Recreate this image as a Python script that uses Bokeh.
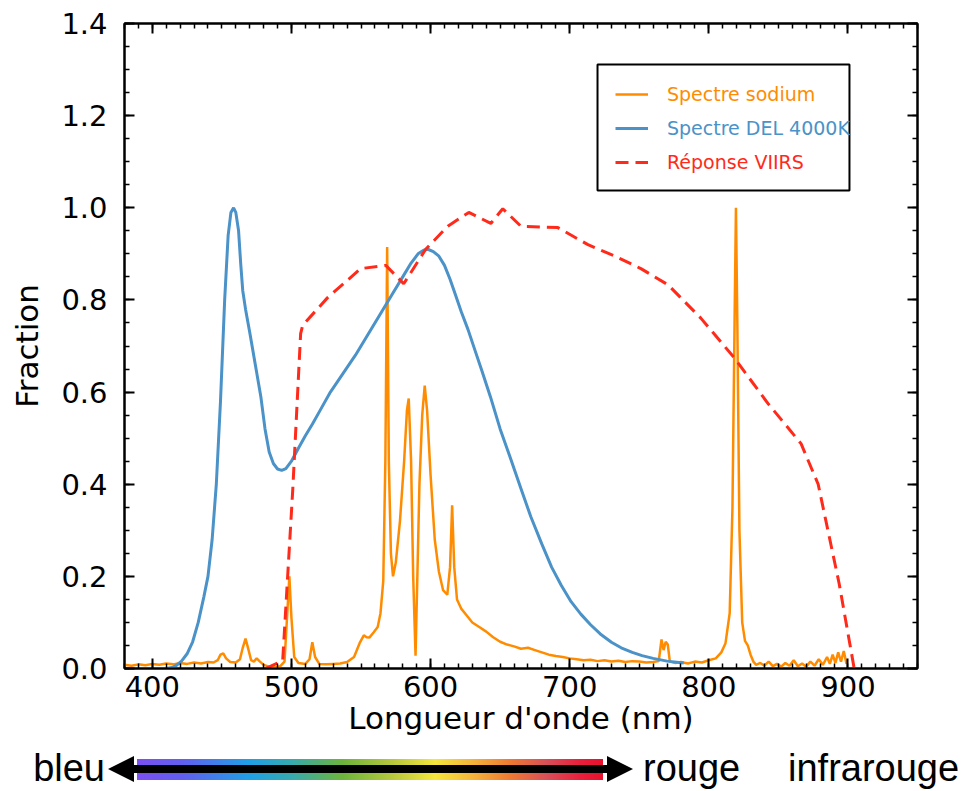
import numpy as np
from bokeh.plotting import figure
from bokeh.models import (Range1d, LinearAxis, FixedTicker, PrintfTickFormatter,
                          Legend, LegendItem, BoxAnnotation, Div)
from bokeh.layouts import column
from bokeh.embed import file_html
from bokeh.resources import INLINE

# ---------------- data ----------------
na_wl = [380, 385, 390, 395, 400, 405, 410, 415, 420, 425, 430, 435, 440, 444, 447, 449, 451, 453,
         456, 460, 463, 465, 467, 469, 471, 473, 475, 477, 480, 484, 488, 492, 495, 497, 498.5, 500,
         502, 505, 510, 513, 515, 517, 520, 525, 530, 535, 540, 545, 549, 552, 554, 556, 559, 562,
         564, 566, 567.5, 568.8, 570, 571.5, 573, 575, 578, 581, 583, 584.3, 586, 587.5, 589.2,
         590.5, 592, 594, 595.8, 597.5, 600, 603, 606, 609, 612, 614, 615.5, 617, 619, 622, 626,
         630, 635, 640, 645, 650, 655, 660, 665, 670, 675, 680, 685, 690, 695, 700, 705, 710, 715,
         720, 725, 730, 735, 740, 745, 750, 755, 760, 764, 766, 767.5, 769, 770.5, 772, 776, 780,
         785, 790, 795, 800, 805, 809, 812, 815, 817, 818.5, 819.5, 820.5, 822, 824, 826, 828, 830,
         832, 834, 837, 840, 843, 846, 849, 852, 855, 858, 861, 864, 867, 870, 873, 876, 879, 882,
         885, 887, 889, 891, 893, 895, 897, 899]
na_val = [0.008, 0.006, 0.009, 0.007, 0.010, 0.008, 0.011, 0.009, 0.012, 0.010, 0.013, 0.011, 0.014,
          0.013, 0.018, 0.030, 0.033, 0.022, 0.014, 0.013, 0.020, 0.045, 0.065, 0.042, 0.018, 0.015,
          0.022, 0.016, 0.008, 0.004, 0.003, 0.005, 0.015, 0.12, 0.20, 0.11, 0.025, 0.012, 0.010,
          0.020, 0.057, 0.025, 0.010, 0.009, 0.010, 0.011, 0.014, 0.025, 0.055, 0.072, 0.068, 0.067,
          0.078, 0.090, 0.12, 0.19, 0.45, 0.915, 0.45, 0.25, 0.20, 0.23, 0.32, 0.45, 0.56, 0.586,
          0.45, 0.20, 0.028, 0.20, 0.40, 0.55, 0.614, 0.56, 0.42, 0.28, 0.21, 0.17, 0.16, 0.22,
          0.354, 0.22, 0.15, 0.13, 0.115, 0.10, 0.09, 0.08, 0.068, 0.058, 0.052, 0.048, 0.043,
          0.045, 0.040, 0.035, 0.030, 0.027, 0.025, 0.022, 0.020, 0.018, 0.019, 0.016, 0.018, 0.015,
          0.017, 0.014, 0.016, 0.015, 0.013, 0.014, 0.016, 0.063, 0.040, 0.058, 0.052, 0.015, 0.012,
          0.014, 0.011, 0.015, 0.013, 0.018, 0.022, 0.035, 0.055, 0.12, 0.35, 0.75, 1.0, 0.75, 0.30,
          0.10, 0.06, 0.05, 0.03, 0.015, 0.008, 0.012, 0.006, 0.015, 0.005, 0.010, 0.004, 0.012,
          0.006, 0.018, 0.005, 0.011, 0.004, 0.015, 0.006, 0.020, 0.008, 0.025, 0.010, 0.030, 0.012,
          0.035, 0.015, 0.038, 0.010]

led_wl = [410, 414, 417, 421, 425, 429, 433, 437, 440, 443, 446, 449, 452, 454.5, 456.5, 458.4,
          460, 462, 463.5, 465, 467, 470, 474, 478, 481, 484, 487, 490, 493, 496, 500, 505, 510,
          515, 520, 528, 537, 546, 555, 564, 572, 580, 586, 591, 595, 598, 602, 606, 610, 614,
          618, 622, 627, 632, 637, 643, 650, 657, 665, 672, 680, 687, 694, 701, 708, 715, 722,
          730, 737, 745, 752, 760, 770, 782]
led_val = [0.0, 0.002, 0.006, 0.016, 0.032, 0.058, 0.10, 0.155, 0.20, 0.28, 0.40, 0.58, 0.80,
           0.94, 0.99, 1.0, 0.99, 0.95, 0.88, 0.82, 0.78, 0.73, 0.66, 0.59, 0.52, 0.47, 0.445,
           0.433, 0.43, 0.434, 0.45, 0.478, 0.505, 0.53, 0.557, 0.60, 0.64, 0.68, 0.725, 0.77,
           0.81, 0.85, 0.88, 0.90, 0.908, 0.91, 0.905, 0.895, 0.875, 0.845, 0.81, 0.775, 0.735,
           0.69, 0.645, 0.59, 0.52, 0.46, 0.39, 0.33, 0.27, 0.22, 0.18, 0.145, 0.118, 0.095,
           0.075, 0.057, 0.045, 0.035, 0.028, 0.022, 0.016, 0.012]

viirs_wl = [481.4, 493.7, 500.9, 506.6, 508.1, 526.0, 549.8, 567.8, 580.7, 596.5, 612.4, 627.5,
            643.3, 651.9, 664.9, 691.5, 713.1, 731.8, 751.2, 770.6, 794.4, 818.1, 842.6, 866.3,
            878.6, 893.7, 904.5]
viirs_val = [0.0, 0.017, 0.386, 0.727, 0.745, 0.805, 0.868, 0.875, 0.835, 0.91, 0.96, 0.99, 0.966,
             0.998, 0.96, 0.957, 0.92, 0.896, 0.868, 0.833, 0.76, 0.675, 0.575, 0.488, 0.40, 0.184,
             0.0]

series_labels = ["Spectre sodium", "Spectre DEL 4000K", "Réponse VIIRS"]
x_label = "Longueur d'onde (nm)"
y_label = "Fraction"
band_labels = ["bleu", "rouge", "infrarouge"]

x_major = [400, 500, 600, 700, 800, 900]
y_major = [0.0, 0.2, 0.4, 0.6, 0.8, 1.0, 1.2, 1.4]

# ---------------- style ----------------
ORANGE = "#ff8c00"
BLUE = "#4a92c8"
RED = "#ff2a1a"
FONT = "DejaVu Sans"

p = figure(frame_width=793, frame_height=645,
           x_range=Range1d(380, 950), y_range=Range1d(0, 1.4),
           output_backend="svg", toolbar_location=None,
           min_border_left=124, min_border_right=47, min_border_top=23, min_border_bottom=80)
p.grid.visible = False
p.outline_line_color = "black"
p.outline_line_width = 2
p.background_fill_color = "white"

x_minor = list(range(380, 951, 10))
y_minor = [round(v, 2) for v in np.arange(0, 1.4001, 0.05)]
xticker = FixedTicker(ticks=x_major, minor_ticks=x_minor)
yticker = FixedTicker(ticks=y_major, minor_ticks=y_minor)


def style_axis(ax, labels=True):
    ax.axis_line_color = "black"
    ax.axis_line_width = 2
    ax.major_tick_in = 10
    ax.major_tick_out = 0
    ax.minor_tick_in = 5
    ax.minor_tick_out = 0
    ax.major_tick_line_width = 2
    ax.minor_tick_line_width = 1.5
    ax.major_tick_line_color = "black"
    ax.minor_tick_line_color = "black"
    if labels:
        ax.major_label_text_font = FONT
        ax.major_label_text_font_size = "29px"
        ax.major_label_text_color = "black"
        ax.axis_label_text_font = FONT
        ax.axis_label_text_font_size = "31px"
        ax.axis_label_text_font_style = "normal"
        ax.axis_label_text_color = "black"
    else:
        ax.major_label_text_font_size = "1px"
        ax.major_label_text_color = None
        ax.major_label_text_alpha = 0
        ax.major_label_standoff = 0


p.xaxis.ticker = xticker
p.yaxis.ticker = yticker
p.yaxis.formatter = PrintfTickFormatter(format="%.1f")
style_axis(p.xaxis[0])
style_axis(p.yaxis[0])
p.xaxis.axis_label = x_label
p.yaxis.axis_label = y_label
p.xaxis.major_label_standoff = 7
p.xaxis.axis_label_standoff = 0
p.yaxis.major_label_standoff = 17
p.yaxis.axis_label_standoff = 13

ax_r = LinearAxis(ticker=yticker)
style_axis(ax_r, labels=False)
p.add_layout(ax_r, "right")
ax_t = LinearAxis(ticker=xticker)
style_axis(ax_t, labels=False)
p.add_layout(ax_t, "above")

r_na = p.line(na_wl, na_val, line_color=ORANGE, line_width=2.5)
r_led = p.line(led_wl, led_val, line_color=BLUE, line_width=3)
r_vi = p.line(viirs_wl, viirs_val, line_color=RED, line_width=3, line_dash="13 7")

# legend frame + three single-entry legends (each with its own text colour)
p.add_layout(BoxAnnotation(left=720.0, right=901.1, bottom=1.0375, top=1.311,
                           fill_color="white", fill_alpha=1, line_color="black",
                           line_alpha=1, line_width=2))
legend_rows = [563, 529, 495]
for r, lab, col, yb in zip([r_na, r_led, r_vi], series_labels, [ORANGE, BLUE, RED], legend_rows):
    leg = Legend(items=[LegendItem(label=lab, renderers=[r])], location=(491, yb),
                 border_line_color=None, background_fill_alpha=0,
                 label_text_color=col, label_text_font=FONT, label_text_font_size="19px",
                 glyph_width=33, glyph_height=22, label_height=22, label_standoff=19,
                 padding=0, margin=0, spacing=0)
    p.add_layout(leg, "center")

# ---------------- visible-spectrum strip under the chart ----------------
MAIN_H = 23 + 645 + 80
STRIP_H = 791 - MAIN_H
stops_pos = [0, 10, 24, 33, 44, 55, 64, 72, 80, 88, 95, 100]
stops_col = ["#7b4ff2", "#6060f0", "#1fa0e6", "#35aab0", "#6cb43c", "#b8c83c", "#f5e63c",
             "#f4b43a", "#ef7a32", "#d84e58", "#e8203c", "#e8102c"]
grad = ", ".join(f"{c} {s}%" for c, s in zip(stops_col, stops_pos))

top0 = 759 - MAIN_H      # gradient top
mid = 769 - MAIN_H       # arrow centre line
base = 781 - MAIN_H      # text baseline
txt_top = base - 32      # 38px Liberation Sans, line-height 38px
txt = ("position:absolute;top:%dpx;font-family:'Liberation Sans',Arial,sans-serif;"
       "font-size:38px;line-height:38px;color:black;white-space:nowrap;" % txt_top)
html = (
    f'<div style="position:relative;width:964px;height:{STRIP_H}px;overflow:hidden;">'
    f'<div style="position:absolute;left:137px;top:{top0}px;width:466px;height:21px;'
    f'background:linear-gradient(to right, {grad});"></div>'
    f'<div style="position:absolute;left:120px;top:{mid - 4}px;width:500px;height:8px;'
    f'background:black;"></div>'
    f'<div style="position:absolute;left:108px;top:{mid - 13}px;width:0;height:0;'
    f'border-top:13px solid transparent;border-bottom:13px solid transparent;'
    f'border-right:26px solid black;"></div>'
    f'<div style="position:absolute;left:607px;top:{mid - 13}px;width:0;height:0;'
    f'border-top:13px solid transparent;border-bottom:13px solid transparent;'
    f'border-left:26px solid black;"></div>'
    f'<div style="{txt}left:0px;width:105px;text-align:right;">{band_labels[0]}</div>'
    f'<div style="{txt}left:643px;">{band_labels[1]}</div>'
    f'<div style="{txt}left:788px;">{band_labels[2]}</div>'
    '</div>'
)
strip = Div(text=html, width=964, height=STRIP_H, margin=0)

layout = column(p, strip, spacing=0)
open("out.html", "w").write(file_html(layout, INLINE))
